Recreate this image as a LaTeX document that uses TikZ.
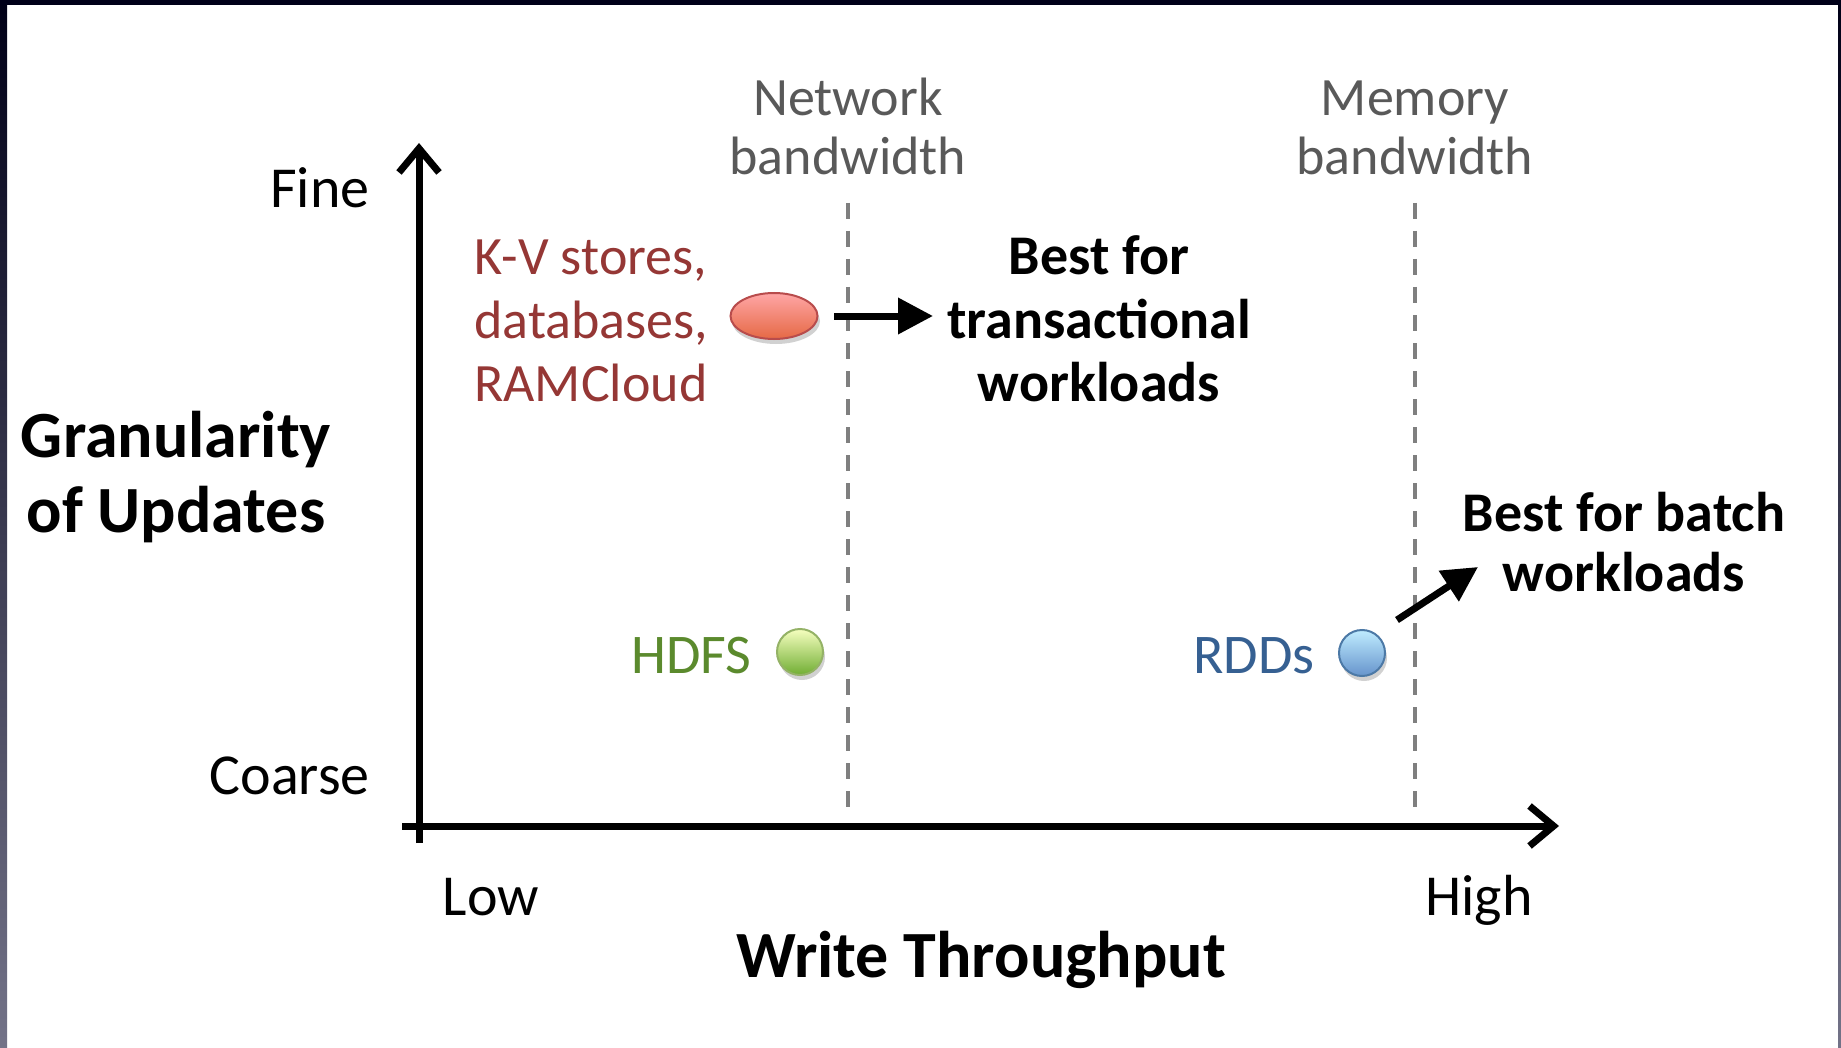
\documentclass[tikz,border=0pt]{standalone}
\usepackage{fontspec}
\setmainfont{Carlito}
\usetikzlibrary{arrows.meta}
\definecolor{kvred}{HTML}{953735}
\definecolor{hdfsgreen}{HTML}{5B8A2D}
\definecolor{rddblue}{HTML}{366092}
\definecolor{bwgray}{HTML}{595959}
\definecolor{dashgray}{HTML}{7F7F7F}
\begin{document}
\begin{tikzpicture}[x=0.5pt,y=-0.5pt,
  txt/.style={inner sep=0pt, font=\fontsize{28}{33}\selectfont},
  ticklbl/.style={txt, font=\fontsize{29}{34}\selectfont, text=black},
  bwlbl/.style={txt, font=\fontsize{27}{32}\selectfont, text=bwgray},
  kvlbl/.style={txt, font=\fontsize{27}{32}\selectfont, text=kvred},
  boldlbl/.style={txt, font=\fontsize{28}{33}\selectfont\bfseries, text=black},
  axislbl/.style={txt, font=\fontsize{33}{38}\selectfont\bfseries, text=black},
  axisline/.style={line width=3.5pt, -{Straight Barb[length=12pt, width=20pt, line width=3.5pt]}},
  limitline/.style={dashgray, line width=2pt, dash pattern=on 8pt off 6pt},
  bigarrow/.style={line width=3.5pt, -{Triangle[length=17.5pt, width=17.5pt]}},
  shadowfill/.style={fill=black, opacity=0.18}
  ]
% background and frame
\useasboundingbox (0,0) rectangle (1841,1048);
\fill[white] (0,0) rectangle (1841,1048);
\shade[top color=black!85!blue!60!black, bottom color=black!45!blue!25!white!60!black] (0,0) rectangle (7,1048);
\shade[top color=black!85!blue!60!black, bottom color=black!45!blue!25!white!60!black] (1838,0) rectangle (1841,1048);
\fill[black!90!blue] (0,0) rectangle (1841,5);

% axes
\coordinate (ybot) at (419,843);
\coordinate (ytop) at (419,143);
\coordinate (xleft) at (402,826);
\coordinate (xright) at (1559,826);
\draw[axisline] (ybot) -- (ytop);
\draw[axisline] (xleft) -- (xright);

% dashed limits
\coordinate (n1) at (848,203);
\coordinate (n2) at (848,814);
\coordinate (m1) at (1415,203);
\coordinate (m2) at (1415,814);
\draw[limitline] (n1) -- (n2);
\draw[limitline] (m1) -- (m2);

% bandwidth labels
\node[bwlbl, anchor=base] (net1) at (848,116) {Network};
\node[bwlbl, anchor=base] (net2) at (848,175) {bandwidth};
\node[bwlbl, anchor=base] (mem1) at (1415,116) {Memory};
\node[bwlbl, anchor=base] (mem2) at (1415,175) {bandwidth};

% tick labels
\node[ticklbl, anchor=base east] (fine) at (370,208) {Fine};
\node[ticklbl, anchor=base east] (coarse) at (370,794) {Coarse};
\node[ticklbl, anchor=base] (low) at (491,915) {Low};
\node[ticklbl, anchor=base] (high) at (1479,915) {High};

% axis titles
\node[axislbl, anchor=base] (xt) at (981,977) {Write Throughput};
\node[axislbl, anchor=base] (yt1) at (176,457) {Granularity};
\node[axislbl, anchor=base] (yt2) at (176,532) {of Updates};

% K-V stores
\node[kvlbl, anchor=base west] (kv1) at (474,275) {K-V stores,};
\node[kvlbl, anchor=base west] (kv2) at (474,338) {databases,};
\node[kvlbl, anchor=base west] (kv3) at (474,401) {RAMCloud};

% markers
\fill[shadowfill] (776,321) ellipse [x radius=44, y radius=23];
\shade[top color=red!35!white, bottom color=red!55!orange!70!white!90!black, draw=red!60!black!70!white, line width=1pt] (774,316) ellipse [x radius=43.5, y radius=23];
\node[inner sep=0pt, minimum width=43.5pt, minimum height=23pt] (kvdot) at (774,316) {};

\fill[shadowfill] (802,657) circle [radius=23];
\shade[top color=green!15!yellow!25!white, bottom color=green!50!yellow!60!black!80!white, draw=green!40!yellow!50!black!60!white, line width=1pt] (800,652) circle [radius=23];
\node[inner sep=0pt, minimum size=23pt, circle] (hdfsdot) at (800,652) {};

\fill[shadowfill] (1364,658) circle [radius=23];
\shade[top color=blue!30!cyan!25!white, bottom color=blue!55!cyan!50!white!80!black, draw=blue!50!cyan!50!black!70!white, line width=1pt] (1362,653) circle [radius=23];
\node[inner sep=0pt, minimum size=23pt, circle] (rdddot) at (1362,653) {};

\node[txt, font=\fontsize{28}{33}\selectfont, text=hdfsgreen, anchor=base east] (hdfs) at (752,673) {HDFS};
\node[txt, font=\fontsize{28}{33}\selectfont, text=rddblue, anchor=base east] (rdds) at (1315,673) {RDDs};

% best for labels
\node[boldlbl, anchor=base] (bt1) at (1099,275) {Best for};
\node[boldlbl, anchor=base] (bt2) at (1099,338) {transactional};
\node[boldlbl, anchor=base] (bt3) at (1099,401) {workloads};
\node[boldlbl, anchor=base] (bb1) at (1624,531) {Best for batch};
\node[boldlbl, anchor=base] (bb2) at (1624,591) {workloads};

% arrows
\coordinate (a1s) at (834,316);
\coordinate (a1e) at (933,316);
\draw[bigarrow] (a1s) -- (a1e);
\coordinate (a2s) at (1397,620);
\coordinate (a2e) at (1478,567);
\draw[bigarrow] (a2s) -- (a2e);
\end{tikzpicture}
\end{document}
